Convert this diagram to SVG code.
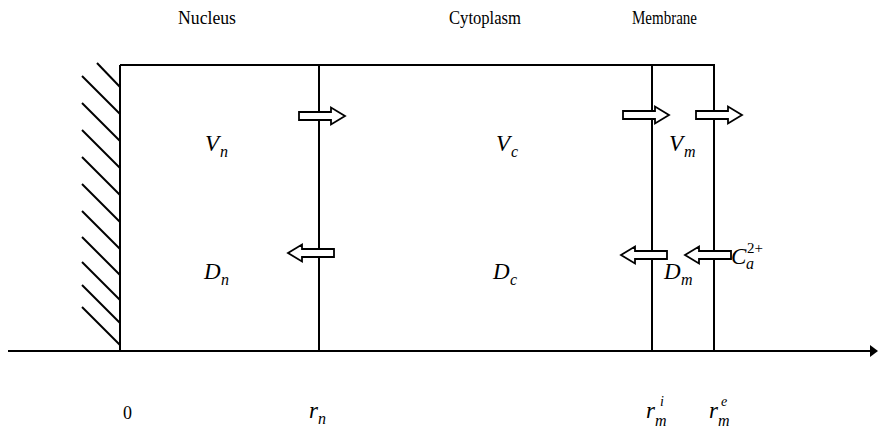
<svg xmlns="http://www.w3.org/2000/svg" width="878" height="431" viewBox="0 0 878 431">
<style>
.ln{stroke:#000;stroke-width:2;fill:none}
.ht{stroke:#000;stroke-width:2;fill:none}
.ar{fill:#fff;stroke:#000;stroke-width:1.8;stroke-linejoin:miter}
text{font-family:'Liberation Serif','DejaVu Serif','Times New Roman',Times,serif;fill:#000}
.hd{font-size:18px}
.m{font-style:italic;font-size:23px}
.s{font-style:italic;font-size:16px}
.p{font-style:italic;font-size:14px}
.u{font-style:normal;font-size:15px}
</style>
<defs>
<path id="ra" d="M0,-4 H32 V-8.5 L46,0 L32,8.5 V4 H0 Z"/>
<path id="la" d="M46,-4 H14 V-8.5 L0,0 L14,8.5 V4 H46 Z"/>
</defs>

<g id="labels-top">
<text class="hd" x="178" y="24" textLength="58" lengthAdjust="spacingAndGlyphs">Nucleus</text>
<text class="hd" x="449" y="24" textLength="72" lengthAdjust="spacingAndGlyphs">Cytoplasm</text>
<text class="hd" x="632" y="24" textLength="65" lengthAdjust="spacingAndGlyphs">Membrane</text>
</g>

<g id="wall">
<line class="ht" x1="97" y1="63" x2="120" y2="87"/>
<line class="ht" x1="82" y1="76" x2="120" y2="114"/>
<line class="ht" x1="82" y1="103" x2="120" y2="141"/>
<line class="ht" x1="82" y1="130" x2="120" y2="168"/>
<line class="ht" x1="82" y1="157" x2="120" y2="195"/>
<line class="ht" x1="82" y1="184" x2="120" y2="222"/>
<line class="ht" x1="82" y1="211" x2="120" y2="249"/>
<line class="ht" x1="82" y1="237" x2="120" y2="275"/>
<line class="ht" x1="82" y1="262" x2="120" y2="300"/>
<line class="ht" x1="82" y1="285" x2="120" y2="323"/>
<line class="ht" x1="82" y1="307" x2="120" y2="345"/>
</g>

<g id="compartments">
<line class="ln" x1="120" y1="65" x2="715" y2="65"/>
<line class="ln" x1="120" y1="65" x2="120" y2="351"/>
<line class="ln" x1="319" y1="65" x2="319" y2="351"/>
<line class="ln" x1="652" y1="65" x2="652" y2="351"/>
<line class="ln" x1="714" y1="65" x2="714" y2="351"/>
</g>

<g id="axis">
<line class="ln" x1="8" y1="351" x2="870" y2="351"/>
<path d="M870,345 L878,351 L870,357 Z" fill="#000"/>
</g>

<g id="connectors">
<use href="#ra" class="ar" x="299" y="116"/>
<use href="#la" class="ar" x="288" y="253"/>
<use href="#ra" class="ar" x="623" y="115"/>
<use href="#ra" class="ar" x="696" y="115"/>
<use href="#la" class="ar" x="621" y="255"/>
<use href="#la" class="ar" x="685" y="255"/>
</g>

<g id="nucleus-labels">
<text class="m" x="205" y="151">V<tspan class="s" x="220" dy="6">n</tspan></text>
<text class="m" x="204" y="279">D<tspan class="s" x="221" dy="6">n</tspan></text>
</g>
<g id="cytoplasm-labels">
<text class="m" x="496" y="151">V<tspan class="s" x="511" dy="6">c</tspan></text>
<text class="m" x="493" y="279">D<tspan class="s" x="510" dy="6">c</tspan></text>
</g>
<g id="membrane-labels">
<text class="m" x="669" y="151">V<tspan class="s" x="684" dy="6">m</tspan></text>
<text class="m" x="664" y="279">D<tspan class="s" x="681" dy="6">m</tspan></text>
<text class="m" x="731" y="264">C<tspan class="s" x="746" dy="5">a</tspan><tspan class="u" x="747" dy="-16">2+</tspan></text>
</g>

<g id="axis-labels">
<text class="u" x="123" y="419" style="font-size:18px">0</text>
<text class="m" x="309" y="418">r<tspan class="s" x="318" dy="6">n</tspan></text>
<text class="m" x="646" y="418">r<tspan class="s" x="655" dy="8">m</tspan><tspan class="p" x="660" dy="-20">i</tspan></text>
<text class="m" x="709" y="418">r<tspan class="s" x="718" dy="8">m</tspan><tspan class="p" x="721" dy="-20">e</tspan></text>
</g>
</svg>
